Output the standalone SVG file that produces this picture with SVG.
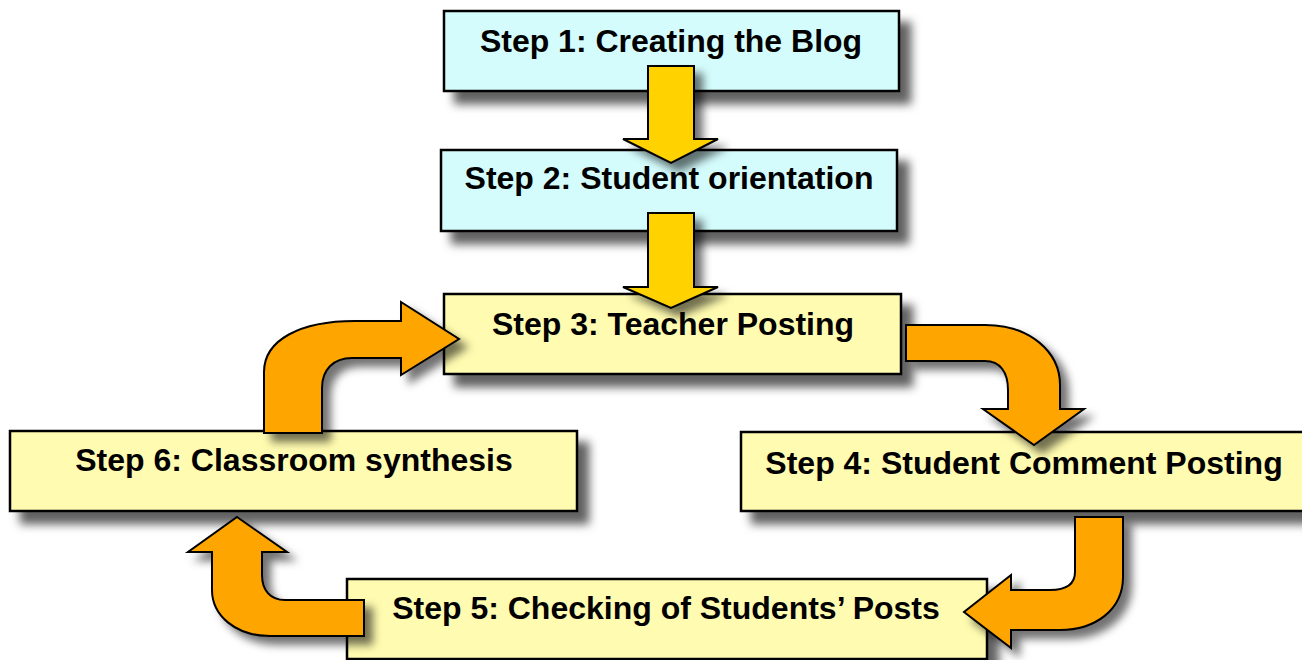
<svg xmlns="http://www.w3.org/2000/svg" width="1302" height="660" viewBox="0 0 1302 660">
  <defs>
    <filter id="shadow" x="-10%" y="-20%" width="130%" height="170%">
      <feGaussianBlur in="SourceAlpha" stdDeviation="5"/>
      <feOffset dx="11" dy="12" result="blur"/>
      <feFlood flood-color="#000" flood-opacity="0.62"/>
      <feComposite in2="blur" operator="in"/>
      <feMerge>
        <feMergeNode/>
        <feMergeNode in="SourceGraphic"/>
      </feMerge>
    </filter>
    <filter id="ashadow" x="-30%" y="-30%" width="170%" height="170%">
      <feGaussianBlur in="SourceAlpha" stdDeviation="4"/>
      <feOffset dx="8" dy="8" result="blur"/>
      <feFlood flood-color="#000" flood-opacity="0.55"/>
      <feComposite in2="blur" operator="in"/>
      <feMerge>
        <feMergeNode/>
        <feMergeNode in="SourceGraphic"/>
      </feMerge>
    </filter>
  </defs>
  <style>
    .box { stroke: #000; stroke-width: 2.5; filter: url(#shadow); }
    .cyan { fill: #d4fcfc; }
    .yellow { fill: #fffbb0; }
    .label { font-family: "Liberation Sans", Arial, sans-serif; font-weight: bold; font-size: 32px; fill: #000; text-anchor: middle; }
    .down { fill: #ffd200; stroke: #000; stroke-width: 2; stroke-linejoin: miter; filter: url(#ashadow); }
    .turn { fill: #ffa500; stroke: #000; stroke-width: 2; stroke-linejoin: miter; filter: url(#ashadow); }
  </style>

  <rect width="1302" height="660" fill="#fff"/>

  <g id="step1">
    <rect class="box cyan" x="444" y="11" width="455" height="80"/>
    <text class="label" x="671" y="52">Step 1: Creating the Blog</text>
  </g>
  <g id="step2">
    <rect class="box cyan" x="441" y="150" width="456" height="81"/>
    <text class="label" x="669" y="189">Step 2: Student orientation</text>
  </g>
  <g id="step3">
    <rect class="box yellow" x="444" y="294" width="457" height="80"/>
    <text class="label" x="673" y="335">Step 3: Teacher Posting</text>
  </g>
  <g id="step4">
    <rect class="box yellow" x="741" y="432" width="570" height="79"/>
    <text class="label" x="1024" y="474">Step 4: Student Comment Posting</text>
  </g>
  <g id="step5">
    <rect class="box yellow" x="347" y="579" width="640" height="80"/>
    <text class="label" x="666" y="619">Step 5: Checking of Students’ Posts</text>
  </g>
  <g id="step6">
    <rect class="box yellow" x="10" y="431" width="567" height="80"/>
    <text class="label" x="294" y="471">Step 6: Classroom synthesis</text>
  </g>

  <g id="connectors">
    <!-- straight arrows 1→2 and 2→3 -->
    <path class="down" d="M648,66 L694,66 L694,139 L718,139 L671,163 L623,139 L648,139 Z"/>
    <path class="down" d="M648,213 L694,213 L694,287 L718,287 L671,308 L623,287 L648,287 Z"/>
    <!-- bent arrows around the cycle -->
    <path class="turn" d="M906,325 L985,325 C1030,325 1060,352 1060,385 L1060,409 L1084,409 L1034,445 L983,409 L1008,409 L1008,390 C1008,372 1000,361 985,361 L906,361 Z"/>
    <path class="turn" d="M1075,517 L1123,517 L1123,577 C1123,610 1095,630 1060,630 L1011,630 L1011,648 L964,612 L1011,575 L1011,590 L1050,590 C1066,590 1075,584 1075,572 Z"/>
    <path class="turn" d="M237,517 L287,552 L262,552 L262,575 C262,590 270,600 285,600 L364,600 L364,636 L270,636 C235,636 212,615 212,590 L212,552 L188,552 Z"/>
    <path class="turn" d="M264,433 L264,372 C264,340 300,321 355,321 L401,321 L401,302 L459,339 L401,375 L401,358 L352,358 C333,358 322,370 322,388 L322,433 Z"/>
  </g>
</svg>
